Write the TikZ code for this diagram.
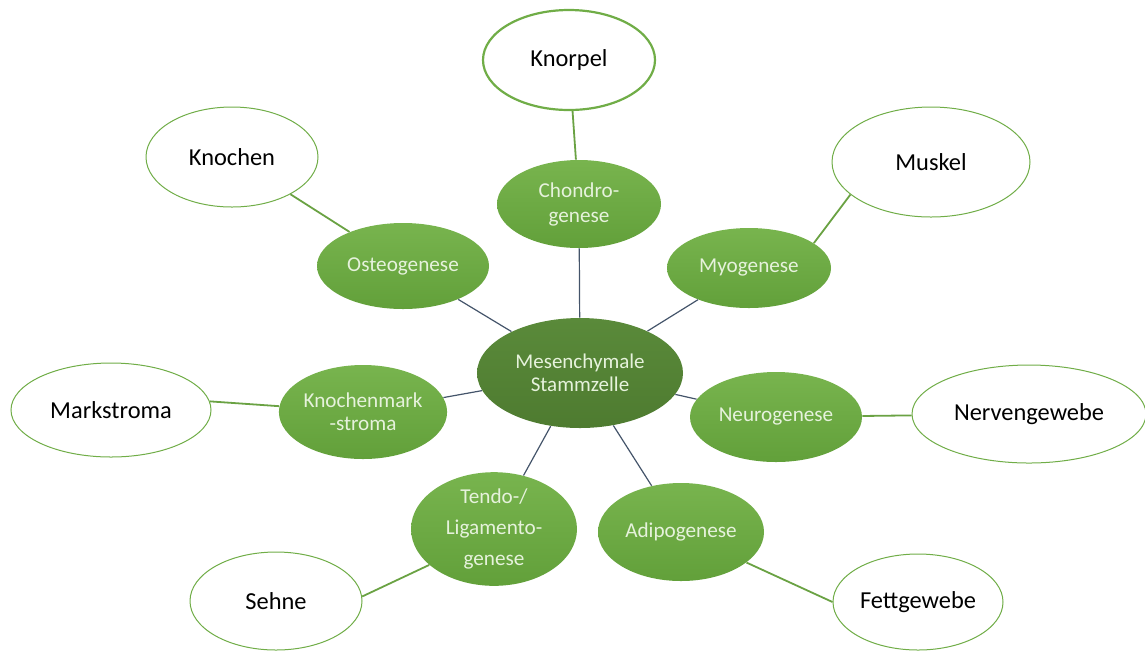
\documentclass[tikz,border=0pt]{standalone}
\usepackage{fontspec}
\setmainfont{Carlito}
\usetikzlibrary{shapes.geometric}
\definecolor{ingreen}{HTML}{70AD47}
\definecolor{intop}{HTML}{78B44E}
\definecolor{inbot}{HTML}{62A03A}
\definecolor{ctop}{HTML}{5A8A3A}
\definecolor{cbot}{HTML}{4E7B30}
\definecolor{intext}{HTML}{E6F2DC}
\definecolor{bluel}{HTML}{44546A}
\definecolor{greenl}{HTML}{6AA243}
\tikzset{
  inner/.style={ellipse, inner sep=0pt, top color=intop, bottom color=inbot, draw=none,
    text=intext, align=center, font=\fontsize{10.6}{12.5}\selectfont},
  center/.style={ellipse, inner sep=0pt, top color=ctop, bottom color=cbot, draw=none,
    text=intext, align=center, font=\fontsize{10.5}{11.5}\selectfont},
  outer/.style={ellipse, inner sep=0pt, fill=white, draw=ingreen, line width=0.5pt,
    text=black, align=center, font=\fontsize{12.2}{14}\selectfont},
  cline/.style={draw=bluel, line width=0.6pt},
  gline/.style={draw=greenl, line width=0.9pt}
}
\begin{document}
\begin{tikzpicture}[x=0.5pt,y=-0.5pt]
\useasboundingbox (0,0) rectangle (1145,650);
% center
\node[center, minimum width=103pt, minimum height=55pt] (mes) at (580,373) {Mesenchymale\\Stammzelle};
% inner
\node[inner, minimum width=82pt, minimum height=44pt] (chon) at (579,204) {Chondro-\\genese};
\node[inner, minimum width=86pt, minimum height=43pt] (oste) at (403,266) {Osteogenese};
\node[inner, minimum width=82pt, minimum height=40pt] (myo) at (749,268) {Myogenese};
\node[inner, minimum width=84pt, minimum height=47pt, font=\fontsize{10.6}{11.5}\selectfont] (kms) at (363,412) {Knochenmark\\-stroma};
\node[inner, minimum width=86pt, minimum height=45pt] (neuro) at (776,417) {Neurogenese};
\node[inner, minimum width=83pt, minimum height=56pt, font=\fontsize{10.6}{15.5}\selectfont] (tendo) at (494,529) {Tendo-/\\Ligamento-\\genese};
\node[inner, minimum width=83pt, minimum height=49pt] (adipo) at (681,532) {Adipogenese};
% outer
\node[outer, minimum width=86pt, minimum height=50pt, line width=1.1pt] (knorpel) at (569,60) {Knorpel};
\node[outer, minimum width=86pt, minimum height=50pt] (knochen) at (232,157) {Knochen};
\node[outer, minimum width=99pt, minimum height=55pt] (muskel) at (931,162) {Muskel};
\node[outer, minimum width=100pt, minimum height=47pt] (mark) at (111,410) {Markstroma};
\node[outer, minimum width=117pt, minimum height=49pt] (nerv) at (1029,414) {Nervengewebe};
\node[outer, minimum width=86pt, minimum height=49pt] (sehne) at (276,601) {Sehne};
\node[outer, minimum width=85pt, minimum height=48pt] (fett) at (918,602) {Fettgewebe};
% connectors
\path[cline] (mes) -- (chon);
\path[cline] (mes) -- (oste);
\path[cline] (mes) -- (myo);
\path[cline] (mes) -- (kms);
\path[cline] (mes) -- (neuro);
\path[cline] (mes) -- (tendo);
\path[cline] (mes) -- (adipo);
\path[gline] (chon) -- (knorpel);
\path[gline] (oste) -- (knochen);
\path[gline] (myo.21) -- (muskel.202);
\path[gline] (kms) -- (mark.5);
\path[gline] (neuro) -- (nerv);
\path[gline] (tendo.209) -- (sehne.3);
\path[gline] (adipo.335) -- (fett.180);
\end{tikzpicture}
\end{document}
